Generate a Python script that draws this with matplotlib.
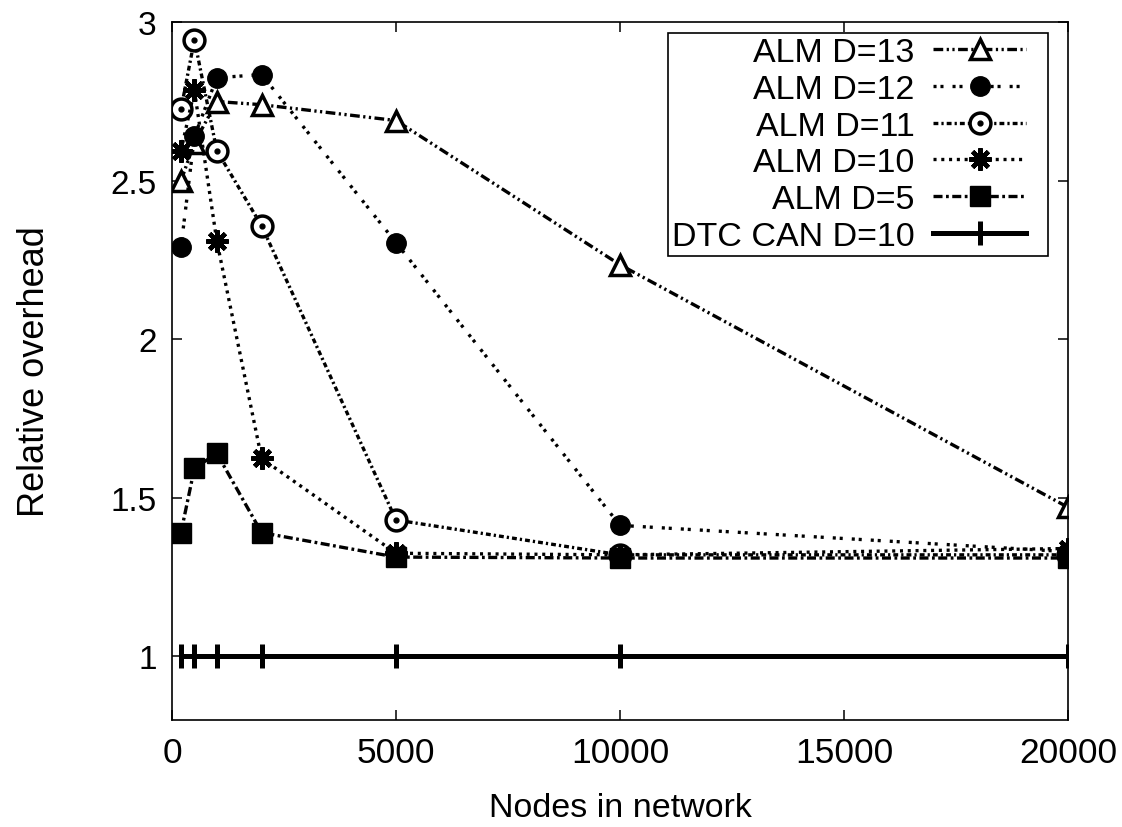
import matplotlib
matplotlib.use("Agg")
import matplotlib.pyplot as plt
from matplotlib.legend_handler import HandlerTuple, HandlerLine2D
from matplotlib.lines import Line2D

plt.rcParams['font.family'] = ['Liberation Sans', 'DejaVu Sans']
plt.rcParams['lines.scale_dashes'] = False

nodes = [200, 500, 1000, 2000, 5000, 10000, 20000]
alm_d13 = [2.50, 2.62, 2.75, 2.74, 2.69, 2.235, 1.47]
alm_d12 = [2.29, 2.64, 2.825, 2.835, 2.305, 1.413, 1.33]
alm_d11 = [2.725, 2.945, 2.595, 2.358, 1.43, 1.32, 1.32]
alm_d10 = [2.595, 2.785, 2.31, 1.624, 1.325, 1.32, 1.34]
alm_d5 = [1.39, 1.593, 1.64, 1.39, 1.313, 1.31, 1.31]
dtc_can_d10 = [1.0, 1.0, 1.0, 1.0, 1.0, 1.0, 1.0]

labels = ["ALM D=13", "ALM D=12", "ALM D=11", "ALM D=10", "ALM D=5", "DTC CAN D=10"]


class ShortLineHandler(HandlerLine2D):
    """Draw the legend sample shorter than its slot, leaving space at the right."""
    frac = 0.84

    def create_artists(self, legend, orig_handle, xdescent, ydescent,
                       width, height, fontsize, trans):
        return super().create_artists(legend, orig_handle, xdescent, ydescent,
                                      width * self.frac, height, fontsize, trans)


fig = plt.figure(figsize=(11.22, 8.28), dpi=100)
ax = fig.add_axes([0.1533, 0.1296, 0.7986, 0.8423])

lw = 2.4
h13, = ax.plot(nodes, alm_d13, color='black', lw=lw, ls=(0, (7, 2.5, 1.6, 2.5, 1.6, 2.5)),
               marker='^', ms=15, mfc='white', mec='black', mew=2.5)
h12, = ax.plot(nodes, alm_d12, color='black', lw=lw, ls=(0, (2.2, 2.8, 2.2, 6.5)),
               marker='o', ms=14, mfc='black', mec='black')
h11, = ax.plot(nodes, alm_d11, color='black', lw=lw, ls=(0, (3.5, 2.2, 1.6, 2.2)),
               marker='o', ms=15, mfc='white', mec='black', mew=2.5)
h11d, = ax.plot(nodes, alm_d11, color='black', ls='none', marker='o', ms=3.5,
                mfc='black', mec='black')
h10, = ax.plot(nodes, alm_d10, color='black', lw=lw, ls=(0, (2.2, 3.4)),
               marker=(8, 2, 0), ms=16, mec='black', mew=3.2)
h5, = ax.plot(nodes, alm_d5, color='black', lw=lw, ls=(0, (6.5, 2.5, 2, 2.5)),
              marker='s', ms=14.5, mfc='black', mec='black')
hd, = ax.plot(nodes, dtc_can_d10, color='black', lw=3.6, ls='-',
              marker='|', ms=17, mec='black', mew=3.6)

ax.set_xlim(0, 20000)
ax.set_ylim(0.8, 3.0)
ax.set_xticks([0, 5000, 10000, 15000, 20000])
ax.set_yticks([1, 1.5, 2, 2.5, 3])
ax.set_yticklabels(["1", "1.5", "2", "2.5", "3"])
ax.tick_params(direction='in', length=7, width=1.1, top=True, right=True,
               labelsize=24, colors='black')
ax.tick_params(axis='x', pad=12, labelsize=25.5)
ax.tick_params(axis='y', pad=11)
for s in ax.spines.values():
    s.set_linewidth(1.2)

ax.set_xlabel("Nodes in network", fontsize=24.5, labelpad=16)
ax.set_ylabel("Relative overhead", fontsize=26, labelpad=42)

leg = ax.legend([h13, h12, (h11, h11d), h10, h5, hd], labels,
                handler_map={tuple: HandlerTuple(ndivide=1, pad=0),
                             Line2D: ShortLineHandler()},
                loc='upper right', bbox_to_anchor=(0.9777, 0.9847),
                borderaxespad=0, fontsize=24.5, markerfirst=False,
                handlelength=3.25, handletextpad=0.55, labelspacing=0.17,
                borderpad=0.12, fancybox=False, framealpha=1, edgecolor='black')
leg.get_frame().set_linewidth(1.2)
for col in leg._legend_box.get_children()[1].get_children():
    col.align = 'right'

fig.savefig("out.png", dpi=100, facecolor='white')
